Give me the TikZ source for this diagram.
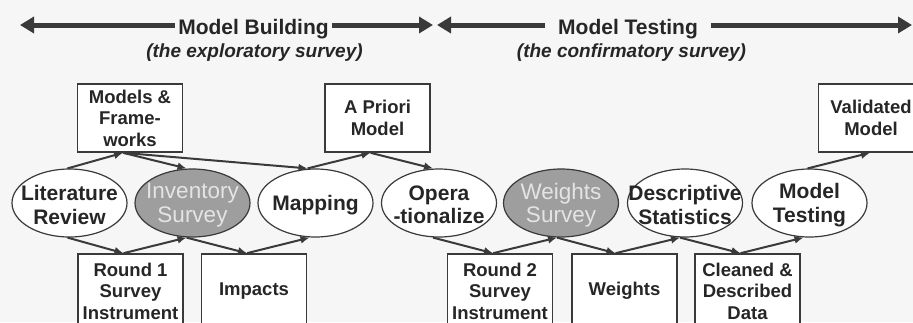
\documentclass[tikz,border=0pt]{standalone}
\usepackage{fontspec}
\setmainfont{Liberation Sans}
\usetikzlibrary{arrows.meta,shapes.geometric}

\definecolor{ink}{HTML}{262626}
\definecolor{edge}{HTML}{3A3A3A}
\definecolor{paper}{HTML}{F6F6F6}
\definecolor{shade}{HTML}{9E9E9E}
\definecolor{shadetext}{HTML}{E4E4E4}

\begin{document}
\begin{tikzpicture}[x=1pt,y=-1pt,
  every node/.style={text=ink},
  phase/.style={line width=5pt, draw=edge,
    {Triangle[length=14pt,width=16pt]}-{Triangle[length=14pt,width=16pt]}},
  heading/.style={fill=paper, anchor=base, inner ysep=3pt,
    font=\bfseries\fontsize{21}{23}\selectfont},
  subhead/.style={anchor=base, font=\bfseries\itshape\fontsize{19}{21}\selectfont},
  product/.style={draw=edge, line width=1.6pt, fill=white, minimum width=105pt,
    align=center, inner sep=0pt, font=\bfseries\fontsize{18.5}{21.5}\selectfont},
  activity/.style={ellipse, draw=edge, line width=1.2pt, fill=white,
    minimum width=115pt, minimum height=68pt, inner sep=0pt},
  survey/.style={activity, fill=shade},
  acttext/.style={align=center, inner sep=0pt, yshift=-2pt,
    font=\bfseries\fontsize{21}{23.5}\selectfont},
  survtext/.style={align=center, inner sep=0pt, yshift=-2pt, text=shadetext,
    font=\fontsize{22.5}{23.5}\selectfont},
  flow/.style={line width=2pt, draw=edge, -{Latex[length=9pt,width=8pt]}},
]
\useasboundingbox (0,0) rectangle (913,322);
\fill[paper] (0,0) rectangle (913,322);

% phase arrows with their headings
\coordinate (b0) at (20,25);
\coordinate (b1) at (433,25);
\coordinate (t0) at (437,25);
\coordinate (t1) at (912,25);
\draw[phase] (b0) -- (b1);
\draw[phase] (t0) -- (t1);
\node[heading, inner xsep=3pt] (hb) at (253.5,34) {Model Building};
\node[heading, inner xsep=13pt] (ht) at (628,34) {Model Testing};
\node[subhead] (sb) at (254.5,57.5) {(the exploratory survey)};
\node[subhead] (st) at (631.5,57.5) {(the confirmatory survey)};

% activities
\node[activity, label={[acttext]center:{Literature\\Review}}] (lit) at (69.5,203) {};
\node[survey,   label={[survtext]center:{Inventory\\Survey}}] (inv) at (192.5,203) {};
\node[activity, label={[acttext]center:{Mapping}}] (map) at (315.5,203) {};
\node[activity, label={[acttext]center:{Opera\\-tionalize}}] (op) at (439,203) {};
\node[survey,   label={[survtext]center:{Weights\\Survey}}] (ws) at (561,203) {};
\node[activity, label={[acttext]center:{Descriptive\\Statistics}}] (ds) at (685,203) {};
\node[activity, label={[acttext]center:{Model\\Testing}}] (mt) at (809.5,203) {};

% products above
\node[product, minimum height=68pt] (mf) at (130,118) {Models \&\\Frame-\\works};
\node[product, minimum height=68pt] (ap) at (377.5,118) {A Priori\\Model};
\node[product, minimum height=68pt] (vm) at (871,118) {Validated\\Model};

% products below
\node[product, minimum height=74pt] (r1)  at (130.5,291) {Round 1\\Survey\\Instrument};
\node[product, minimum height=74pt] (imp) at (254,291) {Impacts};
\node[product, minimum height=74pt] (r2)  at (500,291) {Round 2\\Survey\\Instrument};
\node[product, minimum height=74pt] (wt)  at (624.5,291) {Weights};
\node[product, minimum height=74pt] (cd)  at (747.5,291) {Cleaned \&\\Described\\Data};

% upper flows
\draw[flow] ([xshift=-2pt]lit.north) -- ([xshift=-7pt]mf.south);
\draw[flow] ([xshift=-7pt]mf.south) -- ([xshift=-6pt]inv.north);
\draw[flow] ([xshift=-7pt]mf.south) -- ([xshift=-8pt]map.north);
\draw[flow] ([xshift=-8pt]map.north) -- ([xshift=-7pt]ap.south);
\draw[flow] ([xshift=-7pt]ap.south) -- ([xshift=-6pt]op.north);
\draw[flow] ([xshift=-2pt]mt.north) -- ([xshift=-1pt]vm.south);

% lower flows
\draw[flow] ([xshift=-2pt]lit.south) -- ([xshift=-7pt]r1.north);
\draw[flow] ([xshift=-7pt]r1.north) -- ([xshift=-6pt]inv.south);
\draw[flow] ([xshift=-6pt]inv.south) -- ([xshift=-7pt]imp.north);
\draw[flow] ([xshift=-7pt]imp.north) -- ([xshift=-6pt]map.south);
\draw[flow] ([xshift=-6pt]op.south) -- ([xshift=-7pt]r2.north);
\draw[flow] ([xshift=-7pt]r2.north) -- ([xshift=-4pt]ws.south);
\draw[flow] ([xshift=-4pt]ws.south) -- ([xshift=-9pt]wt.north);
\draw[flow] ([xshift=-9pt]wt.north) -- ([xshift=-5pt]ds.south);
\draw[flow] ([xshift=-5pt]ds.south) -- ([xshift=-7pt]cd.north);
\draw[flow] ([xshift=-7pt]cd.north) -- ([xshift=-6pt]mt.south);
\end{tikzpicture}
\end{document}
